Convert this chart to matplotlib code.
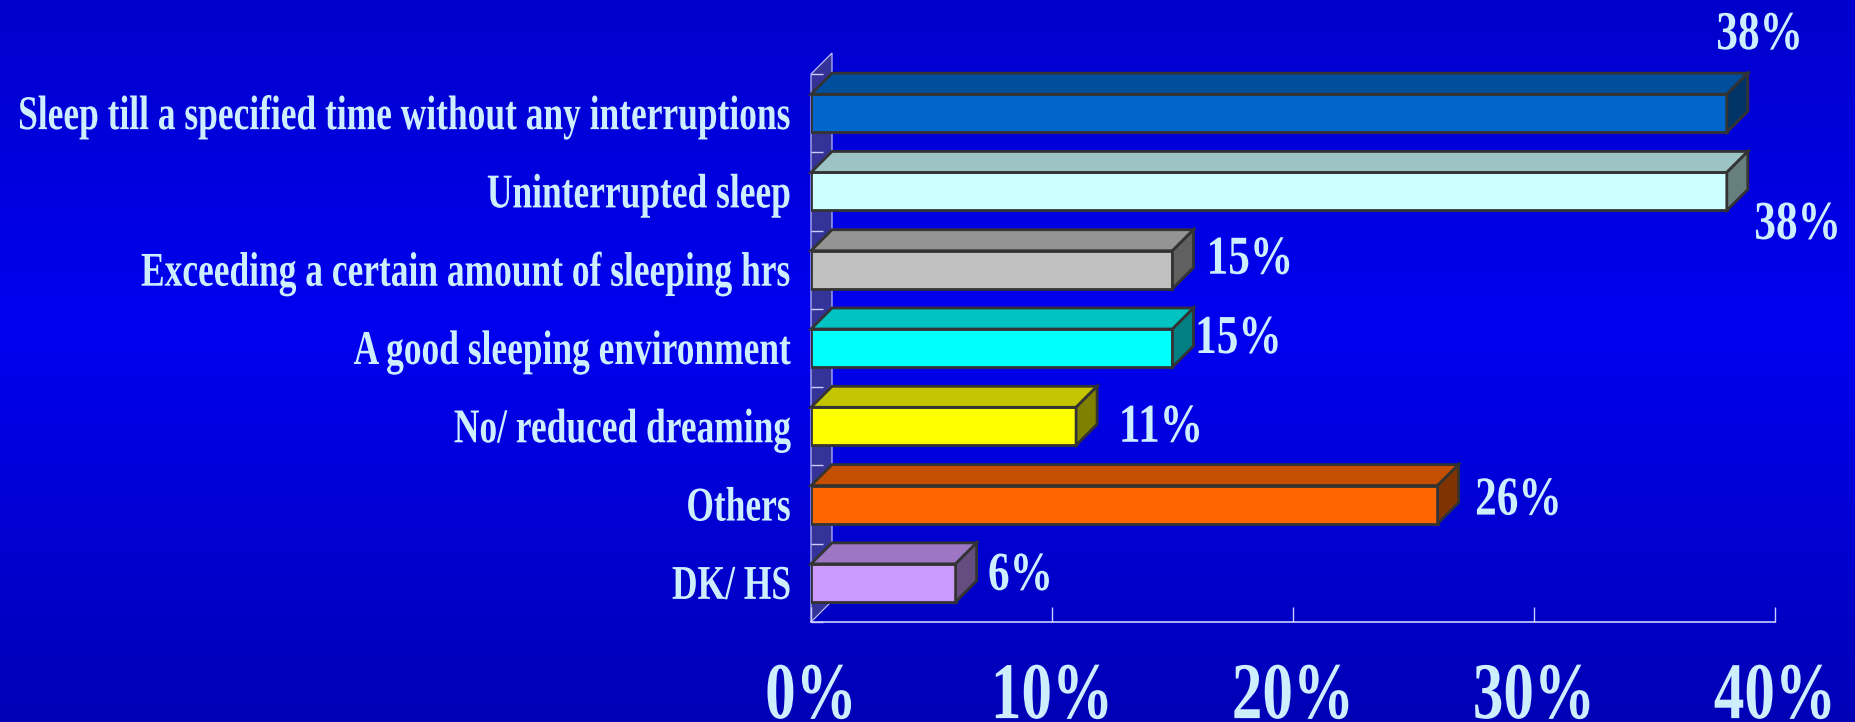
import numpy as np
import matplotlib
matplotlib.use("Agg")
import matplotlib.pyplot as plt
from matplotlib.patches import Polygon
from matplotlib.patheffects import AbstractPathEffect
from matplotlib.transforms import Affine2D, ScaledTranslation
from matplotlib.colors import to_rgb

# ---- data -------------------------------------------------------------
categories = [
    "Sleep till a specified time without any interruptions",
    "Uninterrupted sleep",
    "Exceeding a certain amount of sleeping hrs",
    "A good sleeping environment",
    "No/ reduced dreaming",
    "Others",
    "DK/ HS",
]
shares = [38, 38, 15, 15, 11, 26, 6]
x_ticks = [0, 10, 20, 30, 40]
x_tick_labels = ["0%", "10%", "20%", "30%", "40%"]

# ---- style ------------------------------------------------------------
face_colors = ["#0066CC", "#CCFFFF", "#C0C0C0", "#00FFFF",
               "#FFFF00", "#FF6600", "#CC99FF"]
# value label centre / baseline, in pixels from the bar end and row centre
label_nudge_px = [(33, -64), (71, 47.5), (77.5, 4), (66, 5),
                  (85, 15.5), (81, 10), (65, 7)]

W, H, DPI = 1856, 722, 100
TEXT = "#CCEEFF"
LINE = "#CCCCFF"
EDGE = "#333333"
WALL = "#333399"
FONT = "Liberation Serif"


class Tall(AbstractPathEffect):
    """Stretch glyph outlines vertically (a tall, narrow poster face)."""

    def __init__(self, stretch, anchor="baseline"):
        super().__init__()
        self.stretch = stretch
        self.anchor = anchor

    def draw_path(self, renderer, gc, tpath, affine, rgbFace=None):
        if self.anchor == "top":
            y0 = tpath.get_extents(affine).y1
        else:
            y0 = affine.transform((0, 0))[1]
        tall = affine + Affine2D().translate(0, -y0).scale(1, self.stretch).translate(0, y0)
        renderer.draw_path(gc, tpath, tall, rgbFace)


def shade(color, k):
    return tuple(np.clip(np.array(to_rgb(color)) * k, 0, 1))


fig = plt.figure(figsize=(W / DPI, H / DPI), dpi=DPI)

# vertical blue gradient background
bg = fig.add_axes([0, 0, 1, 1], zorder=0)
rows = np.arange(H)
blue = np.interp(rows, [0, 330, 540, 722], [0.80, 0.94, 0.82, 0.71])
grad = np.zeros((H, 1, 3))
grad[:, 0, 2] = blue
bg.imshow(grad, aspect="auto", extent=(0, 1, 0, 1), interpolation="bilinear")
bg.axis("off")

# plotting area (front plane of the 3-D box)
left_px, right_px, top_px, bottom_px = 811, 1775, 74, 622
ax = fig.add_axes([left_px / W, 1 - bottom_px / H,
                   (right_px - left_px) / W, (bottom_px - top_px) / H], zorder=1)
ax.patch.set_visible(False)
n = len(categories)
ax.set_xlim(x_ticks[0], x_ticks[-1])
ax.set_ylim(n - 0.5, -0.5)

# depth offset (21 px right, 21 px up) expressed in data units
p0 = ax.transData.transform((0, 0))
dx, dy = ax.transData.inverted().transform(p0 + np.array([21, 21]))

# back wall on the left
wall = Polygon([(0, n - 0.5), (0, -0.5), (dx, -0.5 + dy), (dx, n - 0.5 + dy)],
               closed=True, facecolor=WALL, edgecolor=LINE, linewidth=0.8,
               zorder=1, clip_on=False)
ax.add_patch(wall)

# bars: front faces through barh, then top and side faces
bar_h = 0.485
bars = ax.barh(range(n), shares, height=bar_h, color=face_colors,
               edgecolor=EDGE, linewidth=2, zorder=3)
for i, (v, c) in enumerate(zip(shares, face_colors)):
    yt, yb = i - bar_h / 2, i + bar_h / 2
    top = Polygon([(0, yt), (v, yt), (v + dx, yt + dy), (dx, yt + dy)],
                  closed=True, facecolor=shade(c, 0.77), edgecolor=EDGE,
                  linewidth=2, joinstyle="miter", zorder=3, clip_on=False)
    side = Polygon([(v, yt), (v, yb), (v + dx, yb + dy), (v + dx, yt + dy)],
                   closed=True, facecolor=shade(c, 0.5), edgecolor=EDGE,
                   linewidth=2, joinstyle="miter", zorder=3, clip_on=False)
    ax.add_patch(top)
    ax.add_patch(side)

# axes decoration
for s in ("top", "right", "left"):
    ax.spines[s].set_visible(False)
ax.spines["bottom"].set_color(LINE)
ax.spines["bottom"].set_linewidth(1.2)

ax.set_xticks(x_ticks, labels=x_tick_labels)
ax.tick_params(axis="x", direction="in", length=15 * 72 / DPI, width=1,
               color=LINE, pad=29, labelsize=44, labelcolor=TEXT)
for lbl in ax.get_xticklabels():
    lbl.set_fontfamily(FONT)
    lbl.set_fontweight("bold")
    lbl.set_path_effects([Tall(1.316, "top")])

ax.set_yticks([])
ax.set_yticks(np.arange(n + 1) - 0.5, minor=True)
ax.tick_params(axis="y", which="minor", direction="in", length=12 * 72 / DPI,
               width=1, color=LINE)

# category names
cat_offset = ScaledTranslation(-20 / DPI, -16 / DPI, fig.dpi_scale_trans)
for i, cat in enumerate(categories):
    ax.text(0, i, cat, transform=ax.transData + cat_offset, ha="right",
            va="baseline", fontsize=25.5, fontweight="bold", family=FONT,
            color=TEXT, zorder=5, path_effects=[Tall(1.37)])

# value labels
for i, (v, (nx, ny)) in enumerate(zip(shares, label_nudge_px)):
    off = ScaledTranslation(nx / DPI, -ny / DPI, fig.dpi_scale_trans)
    ax.text(v, i, f"{v}%", transform=ax.transData + off, ha="center",
            va="baseline", fontsize=31.2, fontweight="bold", family=FONT,
            color=TEXT, zorder=5, clip_on=False, path_effects=[Tall(1.266)])

fig.savefig("out.png", dpi=DPI)
